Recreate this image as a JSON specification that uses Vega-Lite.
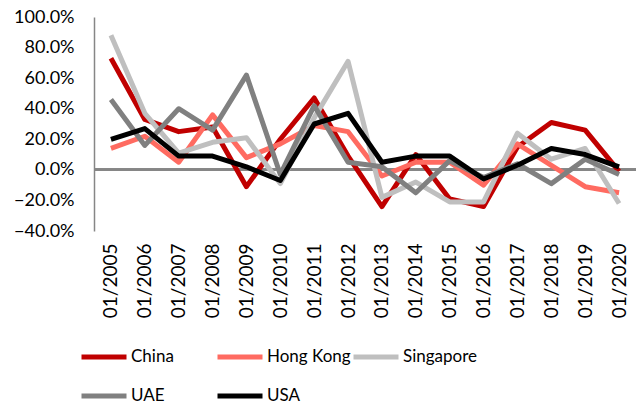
{
  "$schema": "https://vega.github.io/schema/vega-lite/v6.json",
  "autosize": {"type": "none"},
  "padding": {"left": 94, "top": 17, "right": 1, "bottom": 174},
  "width": 542,
  "height": 214,
  "background": "white",
  "config": {
    "font": "Lato",
    "view": {"stroke": null},
    "axis": {"labelFont": "Lato", "labelFontSize": 18, "labelColor": "#000000", "grid": false, "ticks": false, "title": null, "labelOverlap": false},
    "legend": {"labelFont": "Lato", "labelFontSize": 17, "labelColor": "#000000"}
  },
  "data": {
    "values": [
      {"date": "01/2005", "country": "China", "value": 0.73},
      {"date": "01/2006", "country": "China", "value": 0.33},
      {"date": "01/2007", "country": "China", "value": 0.25},
      {"date": "01/2008", "country": "China", "value": 0.28},
      {"date": "01/2009", "country": "China", "value": -0.11},
      {"date": "01/2010", "country": "China", "value": 0.20},
      {"date": "01/2011", "country": "China", "value": 0.47},
      {"date": "01/2012", "country": "China", "value": 0.09},
      {"date": "01/2013", "country": "China", "value": -0.24},
      {"date": "01/2014", "country": "China", "value": 0.10},
      {"date": "01/2015", "country": "China", "value": -0.19},
      {"date": "01/2016", "country": "China", "value": -0.24},
      {"date": "01/2017", "country": "China", "value": 0.15},
      {"date": "01/2018", "country": "China", "value": 0.31},
      {"date": "01/2019", "country": "China", "value": 0.26},
      {"date": "01/2020", "country": "China", "value": -0.01},

      {"date": "01/2005", "country": "Hong Kong", "value": 0.14},
      {"date": "01/2006", "country": "Hong Kong", "value": 0.22},
      {"date": "01/2007", "country": "Hong Kong", "value": 0.05},
      {"date": "01/2008", "country": "Hong Kong", "value": 0.36},
      {"date": "01/2009", "country": "Hong Kong", "value": 0.08},
      {"date": "01/2010", "country": "Hong Kong", "value": 0.17},
      {"date": "01/2011", "country": "Hong Kong", "value": 0.29},
      {"date": "01/2012", "country": "Hong Kong", "value": 0.25},
      {"date": "01/2013", "country": "Hong Kong", "value": -0.04},
      {"date": "01/2014", "country": "Hong Kong", "value": 0.05},
      {"date": "01/2015", "country": "Hong Kong", "value": 0.05},
      {"date": "01/2016", "country": "Hong Kong", "value": -0.10},
      {"date": "01/2017", "country": "Hong Kong", "value": 0.17},
      {"date": "01/2018", "country": "Hong Kong", "value": 0.03},
      {"date": "01/2019", "country": "Hong Kong", "value": -0.11},
      {"date": "01/2020", "country": "Hong Kong", "value": -0.15},

      {"date": "01/2005", "country": "Singapore", "value": 0.88},
      {"date": "01/2006", "country": "Singapore", "value": 0.37},
      {"date": "01/2007", "country": "Singapore", "value": 0.11},
      {"date": "01/2008", "country": "Singapore", "value": 0.18},
      {"date": "01/2009", "country": "Singapore", "value": 0.21},
      {"date": "01/2010", "country": "Singapore", "value": -0.09},
      {"date": "01/2011", "country": "Singapore", "value": 0.34},
      {"date": "01/2012", "country": "Singapore", "value": 0.71},
      {"date": "01/2013", "country": "Singapore", "value": -0.18},
      {"date": "01/2014", "country": "Singapore", "value": -0.08},
      {"date": "01/2015", "country": "Singapore", "value": -0.21},
      {"date": "01/2016", "country": "Singapore", "value": -0.21},
      {"date": "01/2017", "country": "Singapore", "value": 0.24},
      {"date": "01/2018", "country": "Singapore", "value": 0.07},
      {"date": "01/2019", "country": "Singapore", "value": 0.14},
      {"date": "01/2020", "country": "Singapore", "value": -0.22},

      {"date": "01/2005", "country": "UAE", "value": 0.46},
      {"date": "01/2006", "country": "UAE", "value": 0.16},
      {"date": "01/2007", "country": "UAE", "value": 0.40},
      {"date": "01/2008", "country": "UAE", "value": 0.26},
      {"date": "01/2009", "country": "UAE", "value": 0.62},
      {"date": "01/2010", "country": "UAE", "value": -0.03},
      {"date": "01/2011", "country": "UAE", "value": 0.42},
      {"date": "01/2012", "country": "UAE", "value": 0.05},
      {"date": "01/2013", "country": "UAE", "value": 0.02},
      {"date": "01/2014", "country": "UAE", "value": -0.15},
      {"date": "01/2015", "country": "UAE", "value": 0.06},
      {"date": "01/2016", "country": "UAE", "value": -0.05},
      {"date": "01/2017", "country": "UAE", "value": 0.04},
      {"date": "01/2018", "country": "UAE", "value": -0.09},
      {"date": "01/2019", "country": "UAE", "value": 0.07},
      {"date": "01/2020", "country": "UAE", "value": -0.03},

      {"date": "01/2005", "country": "USA", "value": 0.20},
      {"date": "01/2006", "country": "USA", "value": 0.27},
      {"date": "01/2007", "country": "USA", "value": 0.09},
      {"date": "01/2008", "country": "USA", "value": 0.09},
      {"date": "01/2009", "country": "USA", "value": 0.02},
      {"date": "01/2010", "country": "USA", "value": -0.07},
      {"date": "01/2011", "country": "USA", "value": 0.30},
      {"date": "01/2012", "country": "USA", "value": 0.37},
      {"date": "01/2013", "country": "USA", "value": 0.05},
      {"date": "01/2014", "country": "USA", "value": 0.09},
      {"date": "01/2015", "country": "USA", "value": 0.09},
      {"date": "01/2016", "country": "USA", "value": -0.06},
      {"date": "01/2017", "country": "USA", "value": 0.03},
      {"date": "01/2018", "country": "USA", "value": 0.14},
      {"date": "01/2019", "country": "USA", "value": 0.10},
      {"date": "01/2020", "country": "USA", "value": 0.02}
    ]
  },
  "layer": [
    {
      "mark": {"type": "rule", "color": "#868686", "strokeWidth": 2},
      "encoding": {
        "y": {
          "datum": 0,
          "type": "quantitative",
          "scale": {"domain": [-0.4, 1.0], "nice": false, "zero": false},
          "axis": {"format": ".1%", "values": [-0.4, -0.2, 0, 0.2, 0.4, 0.6, 0.8, 1.0], "labelOverlap": false, "labelFlush": false, "domain": true, "domainColor": "#868686", "domainWidth": 1.5, "labelPadding": 20}
        }
      }
    },
    {
      "mark": {"type": "line", "strokeWidth": 5, "strokeJoin": "round", "strokeCap": "butt"},
      "encoding": {
        "x": {
          "field": "date",
          "type": "ordinal",
          "axis": {"labelAngle": -90, "domain": false, "labelPadding": 12, "labelFontSize": 19}
        },
        "y": {
          "field": "value",
          "type": "quantitative",
          "scale": {"domain": [-0.4, 1.0], "nice": false, "zero": false},
          "axis": {"format": ".1%", "values": [-0.4, -0.2, 0, 0.2, 0.4, 0.6, 0.8, 1.0], "labelOverlap": false, "labelFlush": false, "domain": true, "domainColor": "#868686", "domainWidth": 1.5, "labelPadding": 20}
        },
        "color": {
          "field": "country",
          "type": "nominal",
          "scale": {
            "domain": ["China", "Hong Kong", "Singapore", "UAE", "USA"],
            "range": ["#c00000", "#ff6b61", "#bfbfbf", "#808080", "#000000"]
          },
          "legend": {
            "title": null,
            "orient": "none",
            "direction": "horizontal",
            "legendX": -15,
            "legendY": 315,
            "columns": 3,
            "gridAlign": "all",
            "columnPadding": -28,
            "rowPadding": 4,
            "symbolType": "stroke",
            "symbolSize": 2025,
            "symbolStrokeWidth": 5,
            "labelOffset": 2
          }
        }
      }
    }
  ]
}
